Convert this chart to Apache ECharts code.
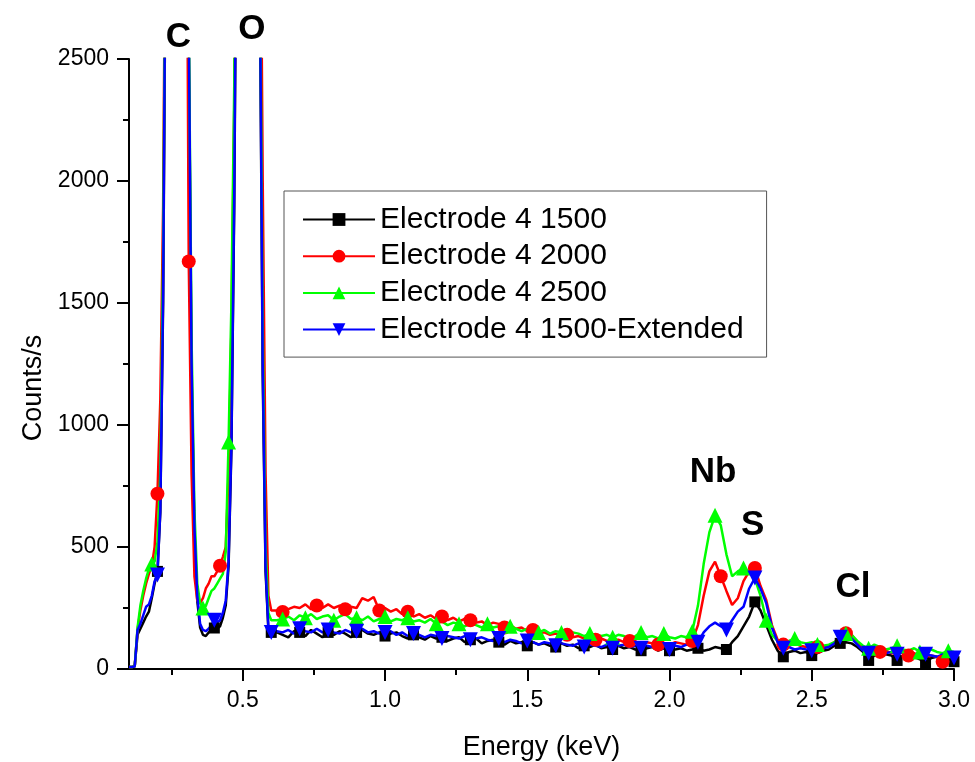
<!DOCTYPE html>
<html><head><meta charset="utf-8">
<script src="https://cdn.jsdelivr.net/npm/echarts@6/dist/echarts.min.js"></script>
<style>html,body{margin:0;padding:0;background:#fff}#c{width:975px;height:762px}</style>
</head><body><div id="c"></div>
<script>
// ---------- DATA ----------
const energy = [
0.10,0.11,0.12,0.13,0.14,0.15,0.16,0.17,0.18,0.19,
0.20,0.21,0.22,0.23,0.24,0.25,0.26,0.27,0.28,0.29,
0.30,0.31,0.32,0.33,0.34,0.35,0.36,0.37,0.38,0.39,
0.40,0.41,0.42,0.43,0.44,0.45,0.46,0.47,0.48,0.49,
0.50,0.51,0.52,0.53,0.54,0.55,0.56,0.57,0.58,0.59,
0.60,
0.62,0.64,0.66,0.68,0.70,0.72,0.74,0.76,0.78,0.80,
0.82,0.84,0.86,0.88,0.90,0.92,0.94,0.96,0.98,1.00,
1.02,1.04,1.06,1.08,1.10,1.12,1.14,1.16,1.18,1.20,
1.22,1.24,1.26,1.28,1.30,1.32,1.34,1.36,1.38,1.40,
1.42,1.44,1.46,1.48,1.50,1.52,1.54,1.56,1.58,1.60,
1.62,1.64,1.66,1.68,1.70,1.72,1.74,1.76,1.78,1.80,
1.82,1.84,1.86,1.88,1.90,1.92,1.94,1.96,1.98,2.00,
2.02,2.04,2.06,2.08,2.10,2.12,2.14,2.16,2.18,2.20,
2.22,2.24,2.26,2.28,2.30,2.32,2.34,2.36,2.38,2.40,
2.42,2.44,2.46,2.48,2.50,2.52,2.54,2.56,2.58,2.60,
2.62,2.64,2.66,2.68,2.70,2.72,2.74,2.76,2.78,2.80,
2.82,2.84,2.86,2.88,2.90,2.92,2.94,2.96,2.98,3.00
];

const electrode1500 = [
8,8,10,140,165,190,215,235,290,350,
400,640,1500,3200,6000,8500,9500,9800,9000,7000,
4500,2600,1200,550,280,170,140,135,150,160,
168,165,175,210,260,420,900,1900,3500,6500,
9500,11000,11500,11000,9000,5500,2800,1200,400,160,
150,
150,140,130,155,150,135,160,145,130,150,
140,155,145,130,150,160,145,140,150,135,
145,150,135,125,140,130,120,135,125,130,
115,125,130,110,120,125,105,115,120,110,
100,115,105,110,95,110,100,105,95,90,
105,95,100,85,95,90,100,85,90,80,
95,85,90,80,75,85,90,75,85,75,
80,85,75,80,85,75,80,90,85,80,
110,135,175,215,275,240,180,120,75,50,
70,75,65,70,55,65,75,80,95,105,
110,105,90,70,35,55,65,60,55,35,
55,60,50,40,25,45,50,40,35,30
];

const electrode2000 = [
8,8,10,160,240,300,350,390,420,500,
718,1100,1900,3500,6500,9000,10000,10200,9500,7500,
4000,1670,800,380,280,270,290,330,350,380,
380,400,423,460,500,800,1400,2300,4200,7200,
10200,11800,12300,11800,9800,6500,3600,2000,800,300,
240,
240,234,245,255,250,265,245,260,250,265,
250,260,245,255,250,290,280,295,240,250,
235,245,225,235,215,225,210,220,205,215,
200,210,195,205,200,190,195,180,190,185,
170,180,165,170,155,160,145,150,140,145,
135,140,130,135,125,130,120,125,115,120,
120,110,115,110,105,110,105,100,105,100,
110,105,100,115,180,300,400,440,380,320,
262,290,360,400,414,340,283,180,120,100,
95,105,95,90,100,90,85,95,110,130,
147,140,110,85,75,80,70,75,65,60,
70,55,65,50,45,55,50,30,45,40
];

const electrode2500 = [
8,8,10,170,260,320,370,410,430,440,
520,800,1700,3400,6300,8800,9800,10000,9300,7300,
4700,2700,1350,650,350,270,250,258,290,320,
330,350,370,390,480,930,1500,2400,4000,7000,
10000,11500,12000,11500,9500,6000,3000,1400,500,230,
200,
200,205,215,200,220,210,225,205,215,220,
200,215,225,205,210,200,215,195,205,215,
195,205,200,210,195,200,190,205,185,195,
180,190,185,175,185,180,170,185,170,175,
160,175,165,155,165,160,150,160,145,155,
150,140,150,145,135,145,140,135,140,130,
140,135,125,135,150,130,135,125,145,130,
125,135,130,155,260,430,560,630,590,470,
380,400,414,400,370,300,200,140,115,110,
115,125,110,105,110,100,95,100,110,130,
145,140,115,95,85,100,90,80,85,95,
80,75,85,70,75,80,70,65,75,70
];

const electrode1500Ext = [
8,8,10,160,185,220,255,265,300,360,
385,650,1550,3300,6200,8700,9700,10000,9200,7200,
4600,2650,1250,580,300,185,160,155,165,180,
200,190,200,230,280,440,920,1950,3600,6700,
9700,11200,11700,11200,9200,5600,2850,1250,420,165,
150,
155,150,160,145,165,155,150,165,150,160,
150,145,160,150,155,165,150,155,145,150,
155,140,150,135,145,140,130,140,135,125,
135,130,125,135,120,125,130,120,115,125,
110,120,115,105,115,110,100,110,105,95,
105,100,95,105,90,100,95,90,100,85,
95,100,90,95,85,95,90,100,85,80,
95,90,100,95,110,150,175,190,175,160,
200,235,255,330,373,330,270,170,110,85,
90,80,85,80,75,80,85,90,105,130,
135,125,100,75,65,70,75,65,70,60,
70,65,60,55,60,55,50,60,55,45
];

const seriesNames = ['Electrode 4 1500','Electrode 4 2000','Electrode 4 2500','Electrode 4 1500-Extended'];
const xLabelTicks = [0.5,1.0,1.5,2.0,2.5,3.0];
const xMinorTicks = [0.25,0.75,1.25,1.75,2.25,2.75];
const peakNames = ['C','O','Nb','S','Cl'];
const peakEnergy = [0.274,0.532,2.153,2.292,2.645];
const peakCounts = [2590,2621,804,589,334];

// ---------- CHART ----------
const FONT = "'Liberation Sans', Arial, sans-serif";
const chart = echarts.init(document.getElementById('c'), null, {renderer:'canvas'});

function markerSet(startH, stepH){
  const eh = energy.map(e => Math.round(e*100));
  const set = new Set();
  for (let t = startH; t <= 300; t += stepH) {
    let best = 0, bd = 1e9;
    for (let i = 0; i < eh.length; i++) {
      const d = Math.abs(eh[i] - t);
      if (d <= bd) { bd = d; best = i; }
    }
    set.add(best);
  }
  return set;
}

function mk(name, vals, color, symbol, size, rot, mset){
  return {
    name, type:'line',
    data: energy.map((e,i) => [e, vals[i]]),
    symbol, symbolRotate: rot,
    symbolSize: (v, p) => mset.has(p.dataIndex) ? size : 0,
    showAllSymbol: true,
    lineStyle:{color, width:2.5},
    itemStyle:{color, borderWidth:0},
    clip:true, animation:false,
    emphasis:{disabled:true},
    xAxisIndex:0, yAxisIndex:0
  };
}

const option = {
  backgroundColor:'#ffffff',
  animation:false,
  grid:{left:129, right:21, top:59, bottom:93, outerBoundsMode:'none', containLabel:false},
  legend:{
    data: seriesNames,
    orient:'vertical',
    left:284, top:191,
    padding:[13,23,12,18],
    itemWidth:72, itemHeight:16, itemGap:5.7,
    backgroundColor:'#ffffff',
    borderColor:'#555555', borderWidth:1,
    selectedMode:false,
    textStyle:{fontSize:30, fontFamily:FONT, color:'#000', lineHeight:31}
  },
  xAxis:[{
    type:'value', min:0.1, max:3.0, position:'bottom',
    axisLine:{show:true, onZero:false, lineStyle:{color:'#000', width:2}},
    axisTick:{show:true, inside:false, length:12, lineStyle:{color:'#000', width:2}, customValues:xLabelTicks},
    axisLabel:{show:true, customValues:xLabelTicks, margin:20, fontSize:23, fontFamily:FONT, color:'#000',
      formatter:v => Number(v).toFixed(1)},
    splitLine:{show:false},
    name:'Energy (keV)', nameLocation:'middle', nameGap:65,
    nameTextStyle:{fontSize:27, fontFamily:FONT, color:'#000'}
  },{
    type:'value', min:0.1, max:3.0, position:'bottom', offset:0,
    axisLine:{show:false},
    axisTick:{show:true, inside:false, length:6, lineStyle:{color:'#000', width:2}, customValues:xMinorTicks},
    axisLabel:{show:false},
    splitLine:{show:false}
  }],
  yAxis:{
    type:'value', min:0, max:2500, interval:500,
    axisLine:{show:true, lineStyle:{color:'#000', width:2}},
    axisTick:{show:true, inside:false, length:12, lineStyle:{color:'#000', width:2}},
    minorTick:{show:true, splitNumber:2, length:6, lineStyle:{color:'#000', width:2}},
    axisLabel:{margin:20, fontSize:23, fontFamily:FONT, color:'#000', formatter:v => String(v)},
    splitLine:{show:false}, minorSplitLine:{show:false},
    name:'Counts/s', nameLocation:'middle', nameGap:68, nameRotate:90,
    nameTextStyle:{fontSize:27, fontFamily:FONT, color:'#000', padding:[0,48,0,0]}
  },
  series:[
    mk(seriesNames[0], electrode1500, '#000000', 'rect', 11, 0, markerSet(20,10)),
    mk(seriesNames[1], electrode2000, '#ff0000', 'circle', 14, 0, markerSet(20,11)),
    mk(seriesNames[2], electrode2500, '#00ff00', 'triangle', 15, 0, markerSet(18,9)),
    mk(seriesNames[3], electrode1500Ext, '#0000ff', 'triangle', 15, 180, markerSet(20,10))
  ]
};
chart.setOption(option);

const texts = peakNames.map((t,i) => {
  const p = chart.convertToPixel({gridIndex:0}, [peakEnergy[i], peakCounts[i]]);
  return {type:'text', x:p[0], y:p[1], z:100,
    style:{text:t, fontSize:35, fontWeight:'bold', fontFamily:FONT, fill:'#000', align:'center', verticalAlign:'middle'}};
});
chart.setOption({graphic: texts});
</script>
</body></html>
